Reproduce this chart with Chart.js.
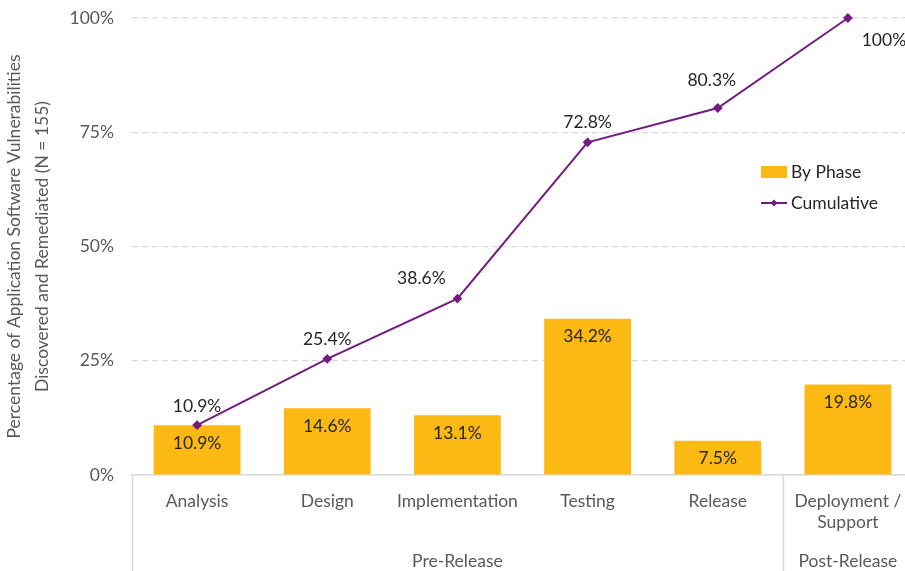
<!DOCTYPE html>
<html>
<head>
<meta charset="utf-8">
<script src="https://cdn.jsdelivr.net/npm/chart.js@4"></script>
<style>
  html, body { margin: 0; padding: 0; background: #fff; }
</style>
</head>
<body>
<canvas id="myChart" width="905" height="571"></canvas>
<script>
// phases and their share of vulnerabilities
var phases = ['Analysis', 'Design', 'Implementation', 'Testing', 'Release', ['Deployment /', 'Support']];
var byPhase = [10.9, 14.6, 13.1, 34.2, 7.5, 19.8];
var cumulative = [10.9, 25.4, 38.6, 72.8, 80.3, 100];
var yTicks = [0, 25, 50, 75, 100];

// release groups shown under the phases: [label, first index, last index]
var groups = [['Pre-Release', 0, 4], ['Post-Release', 5, 5]];

var fontName = "Lato, 'Open Sans', sans-serif";
var barColor = '#FDB913';
var lineColor = '#731C80';
var axisText = '#595959';
var ruleColor = '#D9D9D9';

// plot box edges; the last column runs a little past the canvas
var plotTop = 18;
var plotRight = 913;

// label offsets for the cumulative points (dx, dy from the point)
var cumLabelPos = [[0, -19], [0, -20], [-36, -20], [0, -20], [-6, -28], [36, 22]];

function pct(v) {
    return (v % 1 === 0 ? v.toFixed(0) : v.toFixed(1)) + '%';
}

const labelsPlugin = {
    id: 'labelsPlugin',
    afterLayout(chart) {
        const a = chart.chartArea;
        const x = chart.scales.x;
        const y = chart.scales.y;
        a.top = plotTop;
        a.right = plotRight;
        a.width = a.right - a.left;
        a.height = a.bottom - a.top;
        y.top = a.top;
        y.height = a.height;
        y.configure();
        x.right = a.right;
        x.width = a.width;
        x.configure();
    },
    afterDatasetsDraw(chart) {
        const ctx = chart.ctx;
        ctx.save();
        ctx.textAlign = 'center';
        ctx.textBaseline = 'middle';
        ctx.fillStyle = '#262626';
        ctx.font = '17.5px ' + fontName;

        const barMeta = chart.getDatasetMeta(1);
        barMeta.data.forEach((bar, i) => {
            ctx.fillText(pct(byPhase[i]), bar.x, bar.y + 18);
        });

        const lineMeta = chart.getDatasetMeta(0);
        lineMeta.data.forEach((pt, i) => {
            ctx.fillText(pct(cumulative[i]), pt.x + cumLabelPos[i][0], pt.y + cumLabelPos[i][1]);
        });
        ctx.restore();
    },
    afterDraw(chart) {
        const ctx = chart.ctx;
        const x = chart.scales.x;
        const area = chart.chartArea;
        const h = chart.height;
        const step = (area.right - area.left) / phases.length;
        ctx.save();

        // separators between release groups
        ctx.strokeStyle = ruleColor;
        ctx.lineWidth = 1.5;
        var edges = [0].concat(groups.map(g => g[2] + 1));
        edges.forEach(e => {
            if (e >= phases.length) return;
            var px = Math.round(area.left + e * step) + 0.5;
            ctx.beginPath();
            ctx.moveTo(px, area.bottom);
            ctx.lineTo(px, h);
            ctx.stroke();
        });

        ctx.fillStyle = axisText;
        ctx.font = '17.5px ' + fontName;
        ctx.textAlign = 'center';
        ctx.textBaseline = 'middle';
        groups.forEach(g => {
            var cx = (x.getPixelForValue(g[1]) + x.getPixelForValue(g[2])) / 2;
            ctx.fillText(g[0], cx, 561);
        });

        // legend
        ctx.textAlign = 'left';
        ctx.fillStyle = barColor;
        ctx.fillRect(761, 166, 26, 12);
        ctx.fillStyle = '#262626';
        ctx.fillText('By Phase', 791, 172);

        ctx.strokeStyle = lineColor;
        ctx.lineWidth = 2;
        ctx.beginPath();
        ctx.moveTo(761, 203);
        ctx.lineTo(787, 203);
        ctx.stroke();
        ctx.fillStyle = lineColor;
        ctx.beginPath();
        ctx.moveTo(774, 199.5);
        ctx.lineTo(777.5, 203);
        ctx.lineTo(774, 206.5);
        ctx.lineTo(770.5, 203);
        ctx.closePath();
        ctx.fill();
        ctx.fillStyle = '#262626';
        ctx.fillText('Cumulative', 791, 203);
        ctx.restore();
    }
};

const ctx = document.getElementById('myChart');

const myChart = new Chart(ctx, {
    data: {
        labels: phases,
        datasets: [
            {
                type: 'line',
                label: 'Cumulative',
                data: cumulative,
                borderColor: lineColor,
                backgroundColor: lineColor,
                borderWidth: 2,
                pointStyle: 'rectRot',
                pointRadius: 3.5,
                tension: 0,
                clip: false,
                order: 0
            },
            {
                type: 'bar',
                label: 'By Phase',
                data: byPhase,
                backgroundColor: barColor,
                categoryPercentage: 1,
                barPercentage: 0.667,
                order: 1
            }
        ]
    },
    options: {
        responsive: false,
        animation: false,
        devicePixelRatio: 1,
        layout: { autoPadding: false, padding: { top: 18, right: 0, left: 0, bottom: 0 } },
        plugins: {
            legend: { display: false },
            tooltip: { enabled: false }
        },
        scales: {
            x: {
                grid: { display: false },
                border: { color: ruleColor, width: 1.5 },
                ticks: {
                    color: axisText,
                    font: { family: fontName, size: 17.5 },
                    padding: 8,
                    maxRotation: 0,
                    autoSkip: false
                },
                afterFit(scale) { scale.height = 96; }
            },
            y: {
                min: 0,
                max: 100,
                afterBuildTicks(scale) {
                    scale.ticks = yTicks.map(v => ({ value: v }));
                },
                border: { display: false, dash: [6, 4] },
                grid: { color: ruleColor, lineWidth: 1.2, drawTicks: false },
                ticks: {
                    color: axisText,
                    font: { family: fontName, size: 17.5 },
                    padding: 18,
                    callback: v => v + '%'
                },
                title: {
                    display: true,
                    text: ['Percentage of Application Software Vulnerabilities', 'Discovered and Remediated (N = 155)'],
                    color: axisText,
                    font: { family: fontName, size: 17.5, lineHeight: 1.6 },
                    padding: { top: 0, bottom: 4 }
                },
                afterFit(scale) { scale.width = 132; }
            }
        }
    },
    plugins: [labelsPlugin]
});
</script>
</body>
</html>
